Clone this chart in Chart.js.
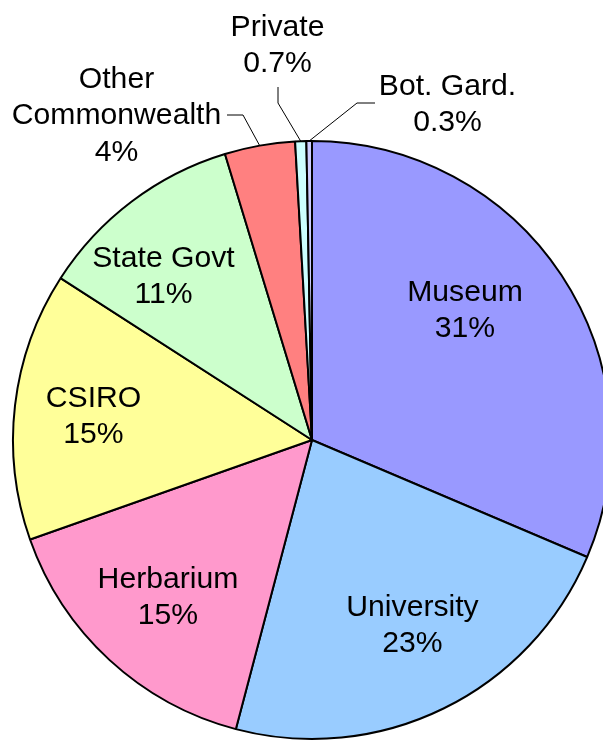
<!DOCTYPE html>
<html>
<head>
<meta charset="utf-8">
<script src="https://cdn.jsdelivr.net/npm/chart.js@4.4.1/dist/chart.umd.min.js"></script>
<style>
  html, body { margin: 0; padding: 0; background: #fff; overflow: hidden; width: 603px; height: 740px; }
  #wrap { position: absolute; left: 0; top: 0; }
</style>
</head>
<body>
<div id="wrap"><canvas id="c" width="624" height="880"></canvas></div>
<script>
const categories = ["Museum", "University", "Herbarium", "CSIRO", "State Govt", "Other Commonwealth", "Private", "Bot. Gard."];
const shares = [31.4, 22.7, 15.5, 14.5, 11.2, 3.8, 0.6, 0.3];
const valueLabels = ["31%", "23%", "15%", "15%", "11%", "4%", "0.7%", "0.3%"];
const labelLines = [["Museum"], ["University"], ["Herbarium"], ["CSIRO"], ["State Govt"], ["Other", "Commonwealth"], ["Private"], ["Bot. Gard."]];

// ---- styling / layout (not data) ----
const sliceColors = ["#9999ff", "#99ccff", "#ff99cc", "#ffff99", "#ccffcc", "#ff8080", "#ccffff", "#ccccff"];
// text anchors: centre x, first baseline y; optional leader elbow points
const labelLayout = [
  { x: 465, y: 301 },
  { x: 412.5, y: 615.5 },
  { x: 168, y: 587.5 },
  { x: 93.5, y: 406.5 },
  { x: 163.5, y: 266.5 },
  { x: 116.5, y: 88, leader: [[227, 115], [243, 115]] },
  { x: 277.5, y: 35.5, leader: [[278, 87], [278, 103]] },
  { x: 447.5, y: 95, leader: [[375, 103], [357, 103]] }
];
const lineGap = 36.3;
const textStretch = 1.04;

const labelPlugin = {
  id: 'sliceLabels',
  afterDatasetsDraw(chart) {
    const ctx = chart.ctx;
    const arcs = chart.getDatasetMeta(0).data;
    arcs.forEach((arc, i) => {
      const L = labelLayout[i];
      const lines = labelLines[i].concat([valueLabels[i]]);
      lines.forEach((t, k) => {
        ctx.save();
        ctx.fillStyle = '#000';
        ctx.font = '29px "Liberation Sans", Arial, sans-serif';
        ctx.textAlign = 'center';
        ctx.textBaseline = 'alphabetic';
        ctx.translate(L.x, L.y + k * lineGap);
        ctx.scale(textStretch, 1);
        ctx.fillText(t, 0, 0);
        ctx.restore();
      });
      if (L.leader) {
        const p = arc.getProps(['x', 'y', 'startAngle', 'endAngle', 'outerRadius'], true);
        const mid = (p.startAngle + p.endAngle) / 2;
        const ex = p.x + Math.cos(mid) * p.outerRadius;
        const ey = p.y + Math.sin(mid) * p.outerRadius;
        ctx.save();
        ctx.beginPath();
        ctx.lineWidth = 1;
        ctx.strokeStyle = '#000';
        ctx.moveTo(L.leader[0][0], L.leader[0][1]);
        ctx.lineTo(L.leader[1][0], L.leader[1][1]);
        ctx.lineTo(ex, ey);
        ctx.stroke();
        ctx.restore();
      }
    });
  }
};

new Chart(document.getElementById('c'), {
  type: 'pie',
  data: {
    labels: categories,
    datasets: [{
      data: shares,
      backgroundColor: sliceColors,
      borderColor: '#000',
      borderWidth: 2
    }]
  },
  options: {
    responsive: false,
    animation: false,
    radius: 299,
    layout: { padding: 0 },
    plugins: { legend: { display: false }, tooltip: { enabled: false } }
  },
  plugins: [labelPlugin]
});
</script>
</body>
</html>
